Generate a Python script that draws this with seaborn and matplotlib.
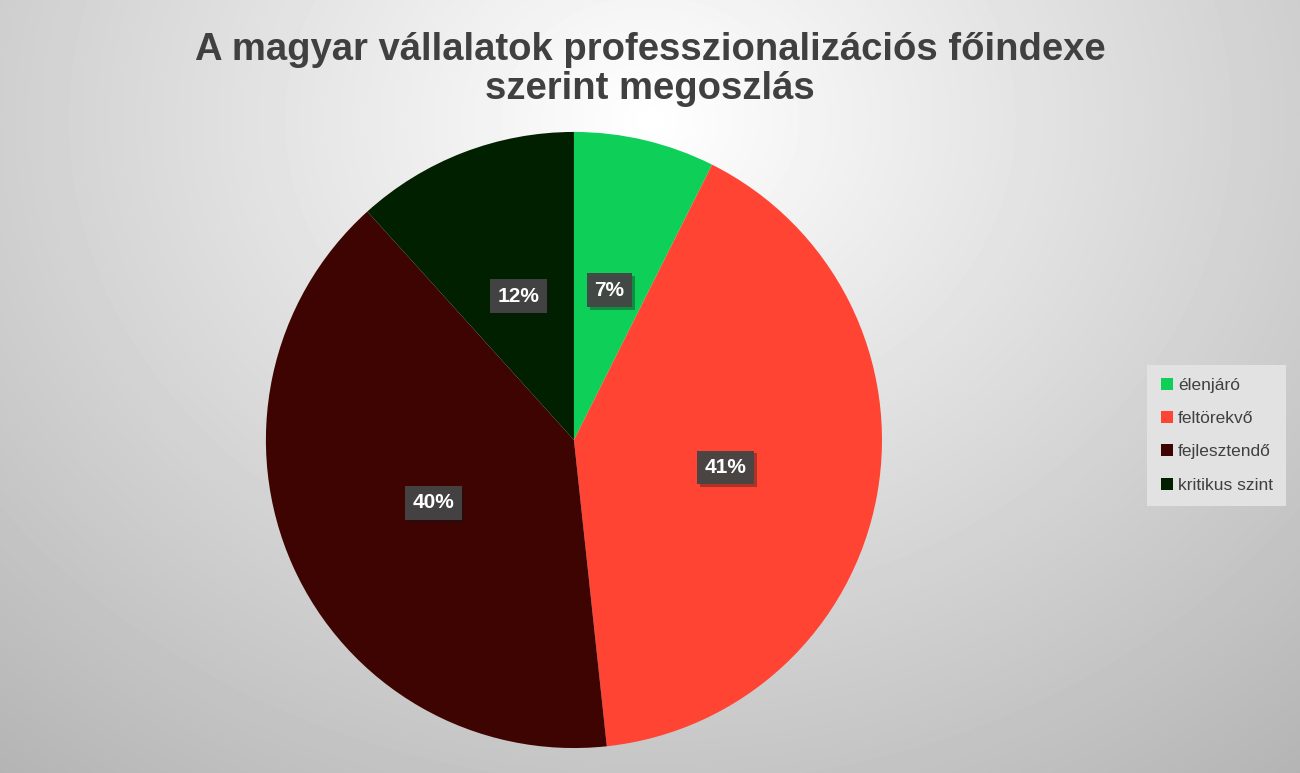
import numpy as np
import seaborn as sns
import matplotlib.pyplot as plt
import matplotlib.patheffects as pe

# data
categories = ["élenjáró", "feltörekvő", "fejlesztendő", "kritikus szint"]
shares = [7.4, 40.9, 40.0, 11.7]
colors = ["#0ecf58", "#ff4433", "#3d0402", "#002000"]
title = "A magyar vállalatok professzionalizációs főindexe\nszerint megoszlás"


def main():
    sns.set_theme(style="white")
    plt.rcParams['font.family'] = ['Liberation Sans', 'DejaVu Sans']

    fig = plt.figure(figsize=(13, 7.73), dpi=100)

    # radial gradient background
    bg = fig.add_axes([0, 0, 1, 1])
    yy, xx = np.mgrid[0:773, 0:1300]
    d = np.sqrt(((xx - 650) / 900.0) ** 2 + ((yy - 120) / 750.0) ** 2)
    shade = np.clip(1.0 - 0.26 * d, 0, 1)
    bg.imshow(shade, cmap="gray", vmin=0, vmax=1, aspect="auto",
              extent=[0, 1, 0, 1], origin="upper")
    bg.set_axis_off()

    ax = fig.add_axes([0.4415 - 0.237, 0.4308 - 0.3985, 0.474, 0.797])
    wedges, texts, autotexts = ax.pie(
        shares, colors=colors, startangle=90, counterclock=False,
        autopct="%.0f%%", pctdistance=0.5,
        wedgeprops=dict(linewidth=0))
    for t in autotexts:
        t.set_color("white")
        t.set_fontsize(15)
        t.set_fontweight("bold")
        t.set_bbox(dict(boxstyle="square,pad=0.35", facecolor="#454545",
                        edgecolor="none", alpha=0.95,
                        path_effects=[pe.SimplePatchShadow(offset=(2, -2), alpha=0.35),
                                      pe.Normal()]))
    ax.set_xlim(-1, 1)
    ax.set_ylim(-1, 1)
    ax.set_aspect("equal")
    ax.set_axis_off()

    fig.text(0.5, 0.958, title, ha="center", va="top", fontsize=27.5,
             fontweight="bold", color="#404040", linespacing=1.1)

    leg = fig.legend(wedges, categories, loc="center left",
                     bbox_to_anchor=(0.876, 0.437), frameon=True,
                     fontsize=12.5, handlelength=0.7, handleheight=0.7,
                     handletextpad=0.3, labelspacing=1.05,
                     borderpad=0.75, labelcolor="#404040")
    frame = leg.get_frame()
    frame.set_facecolor("#e2e2e2")
    frame.set_edgecolor("none")
    frame.set_boxstyle("square,pad=0")
    frame.set_alpha(1)

    fig.savefig("out.png", dpi=100)


if __name__ == '__main__':
    main()
